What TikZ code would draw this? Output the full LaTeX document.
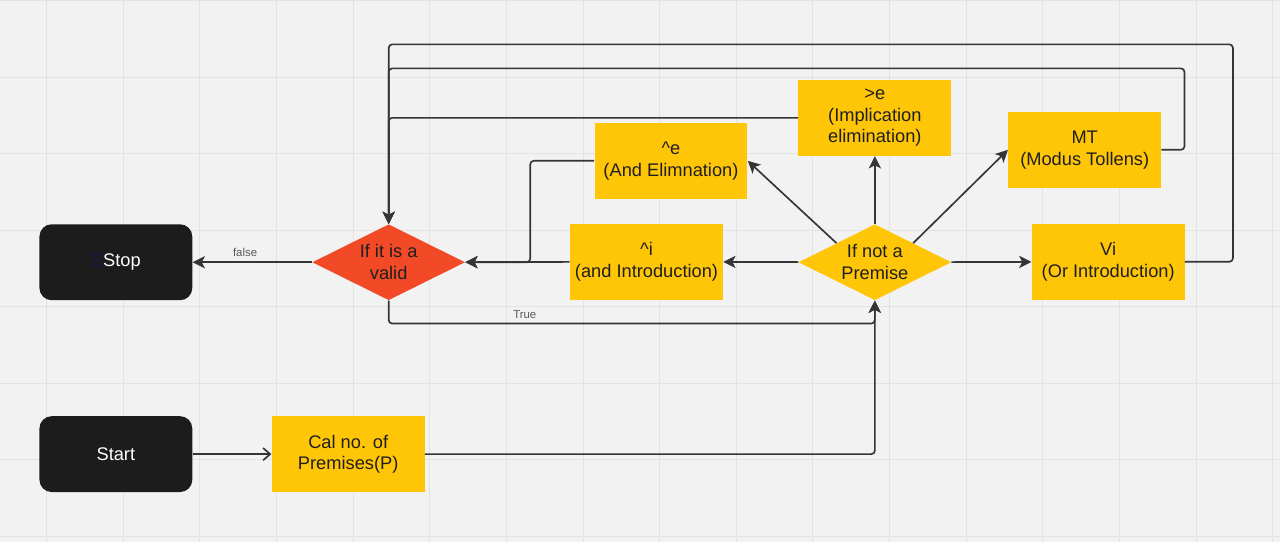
\documentclass[tikz,border=0pt]{standalone}
\usepackage{fontspec}
\setmainfont{Liberation Sans}
\usepackage{tikz}
\usetikzlibrary{arrows.meta,shapes.geometric,positioning}
\definecolor{boardbg}{HTML}{F2F2F2}
\definecolor{gridln}{HTML}{E3E3E3}
\definecolor{stickyY}{HTML}{FFC608}
\definecolor{stickyR}{HTML}{F24A27}
\definecolor{termblk}{HTML}{1C1C1C}
\definecolor{wire}{HTML}{353535}
\definecolor{inkS}{HTML}{1E1A4A}
\tikzset{
  termbox/.style={rectangle,rounded corners=7pt,fill=termblk,minimum width=3.06cm,minimum height=1.52cm,text=white,font=\fontsize{10.4}{12.3}\selectfont},
  opbox/.style={rectangle,fill=stickyY,minimum width=3.06cm,minimum height=1.52cm,inner sep=1pt,align=center,text=black!88,font=\fontsize{10.4}{12.3}\selectfont},
  testdia/.style={diamond,aspect=2,inner sep=0pt,minimum width=3.06cm,minimum height=1.52cm,align=center,text=black!88,font=\fontsize{10.4}{12.3}\selectfont},
  flow/.style={wire,line width=0.95pt,rounded corners=2pt,-{Stealth[length=7pt,width=7pt,inset=1.8pt]}},
  flowlbl/.style={font=\fontsize{6.5}{8}\selectfont,text=black!65,inner sep=2.5pt}
}

\begin{document}
\begin{tikzpicture}[x=0.02cm,y=-0.02cm]
% board
\fill[boardbg] (0,0) rectangle (1280,542);
\foreach \gx in {46,122.7,...,1280}{\draw[gridln,line width=0.5pt] (\gx,0)--(\gx,542);}
\foreach \gy in {0.5,77,...,542}{\draw[gridln,line width=0.5pt] (0,\gy)--(1280,\gy);}
\useasboundingbox (0,0) rectangle (1280,542);
% nodes
\node[termbox] (stop) at (115.5,262) {\textcolor{inkS}{S}Stop};
\node[termbox] (start) at (115.5,454) {Start};
\node[opbox] (calc) at (348,454) {Cal no. of\\Premises(P)};
\node[testdia,fill=stickyR] (valid) at (388.5,262) {If it is a\\valid};
\node[testdia,fill=stickyY] (prem) at (875,262) {If not a\\Premise};
\node[opbox] (andI) at (646.5,261.5) {\textasciicircum i\\(and Introduction)};
\node[opbox] (andE) at (671,160.5) {\textasciicircum e\\(And Elimnation)};
\node[opbox] (impE) at (875,117.5) {>e\\(Implication\\elimination)};
\node[opbox] (mt) at (1085,149.5) {MT\\(Modus Tollens)};
\node[opbox] (orI) at (1108.5,261.5) {Vi\\(Or Introduction)};
% connectors
\draw[flow,-{Straight Barb[length=4pt,width=7pt]}] (start) -- (calc);
\draw[flow] (calc) -| (prem);
\draw[flow] (prem) -- (andI);
\draw[flow] (prem) -- (orI);
\draw[flow] (prem.north) -- (impE.south);
\draw[flow] (prem.north west) -- (andE.east);
\draw[flow] (prem.north east) -- (mt.west);
\draw[flow] (andI) -- (valid);
\draw[flow] (andE.west) -- ++(-64,0) |- (valid.east);
\draw[flow] (impE.west) -| (valid.north);
\draw[flow] (mt.east) -- ++(23,0) -- ++(0,-81.5) -| (valid.north);
\draw[flow] (orI.east) -- ++(48,0) -- ++(0,-217.5) -| (valid.north);
\draw[flow] (valid) -- node[flowlbl,above,pos=0.56]{false} (stop);
\draw[flow] (valid.south) -- ++(0,23) -| node[flowlbl,above,pos=0.14]{True} (prem.south);
\end{tikzpicture}
\end{document}
